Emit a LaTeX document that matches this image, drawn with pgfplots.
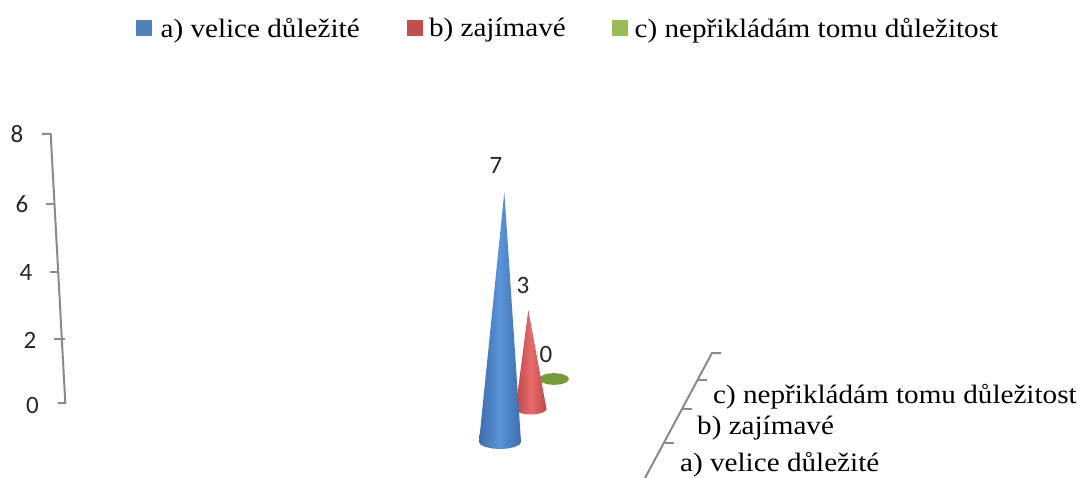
\documentclass[border=0pt]{standalone}
\usepackage{pgfplots}
\pgfplotsset{compat=1.18}
\usepackage{fontspec}
\setmainfont[FakeStretch=1.1]{Liberation Serif}
\newfontfamily\labelfont{Carlito}
\definecolor{axisgray}{HTML}{8A8A8A}
\definecolor{blueA}{HTML}{4F81BD}
\definecolor{redB}{HTML}{C0504D}
\definecolor{greenC}{HTML}{9BBB59}
\definecolor{greenFlat}{HTML}{789A3A}
\definecolor{blueEdge}{HTML}{3D6EAB}
\definecolor{blueMid}{HTML}{5B94DA}
\definecolor{redEdge}{HTML}{B84A48}
\definecolor{redMid}{HTML}{E86A6A}
\pgfplotsset{
  canvas/.style={
    scale only axis, width=1083pt, height=478pt,
    xmin=0, xmax=1083, axis lines=none, clip=false,
  },
  % depth rows: each row of the 3D chart has its own value scale
  depthrow/.style 2 args={canvas, ymin=#1, ymax=#2},
}
\tikzset{
  vlabel/.style={font=\labelfont\fontsize{25}{25}\selectfont, text=black!85},
  tlabel/.style={font=\labelfont\fontsize{25}{25}\selectfont, text=black!85, anchor=center},
  clabel/.style={font=\fontsize{26.5}{26.5}\selectfont, anchor=west, text=black, inner sep=0pt},
  rule/.style={draw=axisgray, line width=2pt},
}
\begin{document}
\begin{tikzpicture}
\useasboundingbox (0,0) rectangle (1083pt,478pt);
% value axis, category axis and legend
\begin{axis}[canvas, ymin=-2.230, ymax=11.985,
  legend style={at={(axis cs:133,11.57)}, anchor=north west, draw=none, fill=none,
    font=\fontsize{26.5}{26.5}\selectfont, legend columns=3},
  legend cell align=left]
\addlegendimage{legend image code/.code={\fill[blueA] (0pt,-7pt) rectangle (15pt,8pt);}}
\addlegendentry{\hspace*{7pt}a) velice důležité\hspace{45pt}\mbox{}}
\addlegendimage{legend image code/.code={\fill[redB] (0pt,-7pt) rectangle (15pt,8pt);}}
\addlegendentry{\hspace*{5pt}b) zajímavé\hspace{44.5pt}\mbox{}}
\addlegendimage{legend image code/.code={\fill[greenC] (0pt,-7pt) rectangle (15pt,8pt);}}
\addlegendentry{\hspace*{5pt}c) nepřikládám tomu důležitost}
% value axis
\addplot[rule, forget plot] coordinates {(42,8) (50.7,8) (65.3,0) (57.5,0)};
\addplot[rule, forget plot] coordinates {(46,5.93) (54.7,5.93)};
\addplot[rule, forget plot] coordinates {(50,3.90) (58.5,3.90)};
\addplot[rule, forget plot] coordinates {(54,1.90) (65,1.90)};
\node[tlabel] at (axis cs:17,8) {8};
\node[tlabel] at (axis cs:22,5.90) {6};
\node[tlabel] at (axis cs:26,3.87) {4};
\node[tlabel] at (axis cs:30,1.87) {2};
\node[tlabel] at (axis cs:32.5,-0.06) {0};
% category axis
\addplot[rule, forget plot] coordinates {(645,-2.23) (712,1.487) (721,1.487)};
\addplot[rule, forget plot] coordinates {(698,0.684) (707,0.684)};
\addplot[rule, forget plot] coordinates {(683,-0.178) (692,-0.178)};
\addplot[rule, forget plot] coordinates {(665,-1.190) (674,-1.190)};
\node[clabel] at (axis cs:713,0.178) {c) nepřikládám tomu důležitost};
\node[clabel] at (axis cs:697,-0.744) {b) zajímavé};
\node[clabel] at (axis cs:680,-1.845) {a) velice důležité};
\end{axis}
% back row
\begin{axis}[depthrow={-3.000}{11.485}]
\addplot[draw=none, fill=greenFlat] coordinates {
 (569,0) (567,0.09) (561.5,0.156) (554,0.18) (546.5,0.156) (541,0.09)
 (539,0) (541,-0.09) (546.5,-0.156) (554,-0.18) (561.5,-0.156) (567,-0.09)} -- cycle;
\node[vlabel] at (axis cs:546,0.73) {0};
\end{axis}
% middle row
\begin{axis}[depthrow={-2.091}{12.394}]
\addplot[draw=none, left color=redEdge, right color=redEdge, middle color=redMid] coordinates {
 (515.5,0) (516.4,-0.057) (520,-0.118) (525.7,-0.157) (531,-0.167)
 (536.3,-0.157) (542,-0.118) (545.6,-0.057) (546.5,0) (528.3,3)} -- cycle;
\node[vlabel] at (axis cs:523,3.73) {3};
\end{axis}
% front row
\begin{axis}[depthrow={-1.008}{12.377}]
\addplot[draw=none, left color=blueEdge, right color=blueEdge, middle color=blueMid] coordinates {
 (479,0) (480.3,-0.067) (485.2,-0.139) (492.8,-0.184) (500,-0.196)
 (507.2,-0.184) (514.8,-0.139) (519.7,-0.067) (521,0) (504.3,7)} -- cycle;
\node[vlabel] at (axis cs:496,7.73) {7};
\end{axis}
\end{tikzpicture}
\end{document}
